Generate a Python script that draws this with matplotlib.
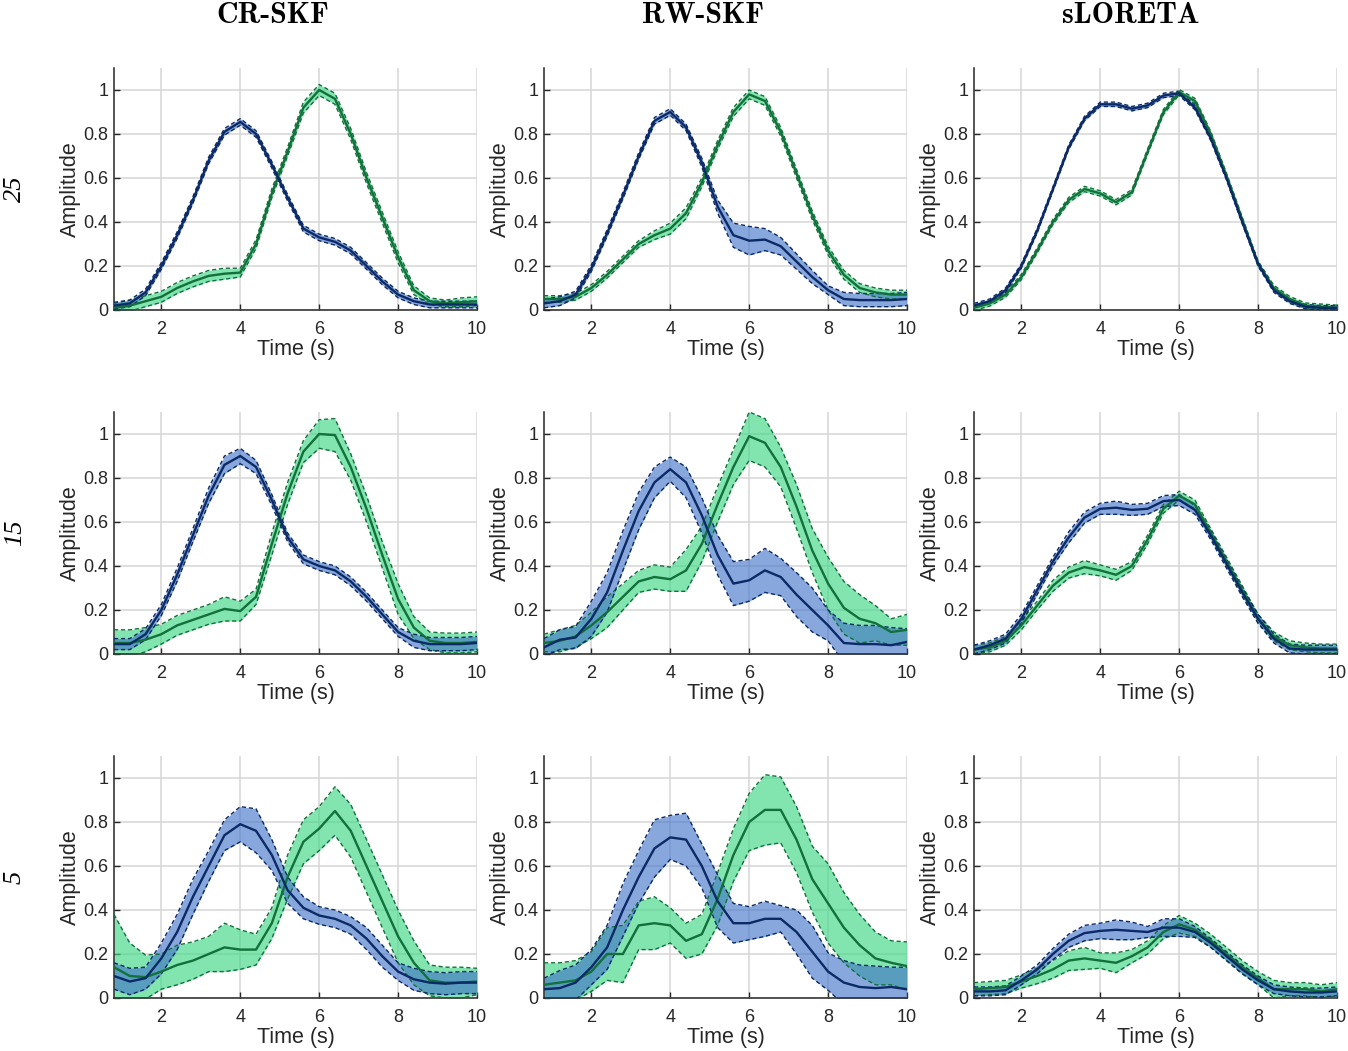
import numpy as np
import matplotlib
matplotlib.use("Agg")
import matplotlib.pyplot as plt

time_s = [0.8, 1.2, 1.6, 2.0, 2.4, 2.8, 3.2, 3.6, 4.0, 4.4, 4.8, 5.2,
          5.6, 6.0, 6.4, 6.8, 7.2, 7.6, 8.0, 8.4, 8.8, 9.2, 9.6, 10.0]

methods = ["CR-SKF", "RW-SKF", "sLORETA"]
snr_labels = ["25", "15", "5"]

# ---- SNR 25 ----
cr25_blue = [0.02, 0.03, 0.08, 0.20, 0.34, 0.50, 0.68, 0.81, 0.855, 0.80, 0.66, 0.51,
             0.37, 0.33, 0.31, 0.27, 0.20, 0.13, 0.07, 0.04, 0.025, 0.025, 0.025, 0.025]
cr25_blue_sd = [0.015] * 24
cr25_green = [0.01, 0.02, 0.04, 0.06, 0.10, 0.13, 0.155, 0.165, 0.17, 0.30, 0.53, 0.72,
              0.92, 1.00, 0.96, 0.80, 0.60, 0.42, 0.24, 0.09, 0.04, 0.03, 0.035, 0.04]
cr25_green_sd = [0.02, 0.025, 0.025, 0.025, 0.025, 0.025, 0.025, 0.025, 0.02, 0.02, 0.02, 0.02,
                 0.025, 0.025, 0.025, 0.025, 0.025, 0.025, 0.025, 0.02, 0.015, 0.015, 0.02, 0.02]

rw25_blue = [0.03, 0.04, 0.07, 0.19, 0.35, 0.52, 0.70, 0.86, 0.90, 0.83, 0.67, 0.47,
             0.34, 0.315, 0.32, 0.29, 0.22, 0.15, 0.09, 0.05, 0.045, 0.045, 0.045, 0.05]
rw25_blue_sd = [0.02, 0.02, 0.015, 0.015, 0.015, 0.015, 0.015, 0.015, 0.015, 0.015, 0.02, 0.03,
                0.055, 0.065, 0.05, 0.04, 0.035, 0.03, 0.02, 0.03, 0.03, 0.03, 0.03, 0.03]
rw25_green = [0.05, 0.05, 0.06, 0.10, 0.16, 0.23, 0.30, 0.34, 0.37, 0.44, 0.58, 0.75,
              0.90, 0.98, 0.95, 0.81, 0.62, 0.43, 0.27, 0.16, 0.10, 0.08, 0.07, 0.07]
rw25_green_sd = [0.015, 0.015, 0.015, 0.015, 0.015, 0.015, 0.015, 0.02, 0.025, 0.025, 0.02, 0.02,
                 0.02, 0.02, 0.02, 0.02, 0.02, 0.02, 0.02, 0.02, 0.02, 0.02, 0.02, 0.02]

sl25_blue = [0.02, 0.04, 0.09, 0.20, 0.36, 0.55, 0.74, 0.87, 0.935, 0.935, 0.915, 0.93,
             0.975, 0.985, 0.92, 0.78, 0.60, 0.40, 0.21, 0.09, 0.04, 0.015, 0.01, 0.01]
sl25_blue_sd = [0.01] * 24
sl25_green = [0.01, 0.03, 0.07, 0.15, 0.27, 0.40, 0.50, 0.55, 0.53, 0.49, 0.535, 0.72,
              0.90, 0.99, 0.95, 0.80, 0.61, 0.41, 0.21, 0.10, 0.05, 0.02, 0.015, 0.01]
sl25_green_sd = [0.012] * 24

# ---- SNR 15 ----
cr15_blue = [0.045, 0.045, 0.09, 0.20, 0.36, 0.54, 0.72, 0.86, 0.90, 0.85, 0.70, 0.53,
             0.43, 0.40, 0.38, 0.33, 0.26, 0.18, 0.10, 0.06, 0.045, 0.045, 0.045, 0.05]
cr15_blue_sd = [0.025, 0.025, 0.025, 0.025, 0.03, 0.03, 0.035, 0.04, 0.035, 0.03, 0.025, 0.02,
                0.02, 0.02, 0.02, 0.02, 0.02, 0.02, 0.02, 0.03, 0.03, 0.03, 0.03, 0.03]
cr15_green = [0.05, 0.05, 0.065, 0.09, 0.13, 0.155, 0.18, 0.205, 0.195, 0.26, 0.50, 0.73,
              0.92, 1.00, 0.995, 0.85, 0.66, 0.45, 0.25, 0.12, 0.06, 0.05, 0.05, 0.055]
cr15_green_sd = [0.06, 0.06, 0.055, 0.045, 0.045, 0.045, 0.045, 0.055, 0.045, 0.035, 0.05, 0.05,
                 0.05, 0.065, 0.075, 0.06, 0.06, 0.06, 0.07, 0.05, 0.04, 0.045, 0.045, 0.045]

rw15_blue = [0.03, 0.065, 0.075, 0.16, 0.28, 0.47, 0.65, 0.78, 0.84, 0.78, 0.63, 0.45,
             0.32, 0.335, 0.38, 0.35, 0.27, 0.20, 0.13, 0.05, 0.045, 0.045, 0.04, 0.055]
rw15_blue_sd = [0.04, 0.045, 0.05, 0.08, 0.09, 0.09, 0.085, 0.07, 0.055, 0.07, 0.08, 0.09,
                0.10, 0.095, 0.10, 0.085, 0.10, 0.10, 0.07, 0.09, 0.085, 0.085, 0.08, 0.06]
rw15_green = [0.05, 0.06, 0.08, 0.13, 0.19, 0.26, 0.33, 0.35, 0.34, 0.38, 0.50, 0.68,
              0.85, 0.99, 0.96, 0.85, 0.67, 0.47, 0.32, 0.21, 0.16, 0.14, 0.10, 0.11]
rw15_green_sd = [0.04, 0.05, 0.05, 0.06, 0.07, 0.06, 0.05, 0.055, 0.055, 0.095, 0.08, 0.08,
                 0.08, 0.11, 0.11, 0.09, 0.10, 0.10, 0.12, 0.12, 0.11, 0.08, 0.06, 0.07]

sl15_blue = [0.02, 0.04, 0.07, 0.16, 0.29, 0.42, 0.53, 0.62, 0.66, 0.665, 0.655, 0.66,
             0.695, 0.70, 0.655, 0.54, 0.41, 0.28, 0.16, 0.07, 0.025, 0.02, 0.02, 0.02]
sl15_blue_sd = [0.02, 0.02, 0.02, 0.02, 0.02, 0.02, 0.025, 0.025, 0.025, 0.03, 0.025, 0.025,
                0.025, 0.025, 0.02, 0.02, 0.02, 0.02, 0.02, 0.02, 0.02, 0.02, 0.02, 0.02]
sl15_green = [0.02, 0.03, 0.06, 0.13, 0.22, 0.31, 0.37, 0.395, 0.38, 0.36, 0.40, 0.52,
              0.66, 0.72, 0.68, 0.55, 0.42, 0.29, 0.16, 0.08, 0.04, 0.03, 0.025, 0.025]
sl15_green_sd = [0.02, 0.02, 0.02, 0.02, 0.02, 0.025, 0.025, 0.03, 0.025, 0.025, 0.02, 0.02,
                 0.02, 0.02, 0.02, 0.02, 0.02, 0.02, 0.02, 0.02, 0.02, 0.02, 0.02, 0.02]

# ---- SNR 5 ----
cr5_blue = [0.10, 0.075, 0.09, 0.18, 0.30, 0.46, 0.60, 0.74, 0.79, 0.76, 0.65, 0.49,
            0.41, 0.375, 0.36, 0.33, 0.27, 0.19, 0.12, 0.085, 0.07, 0.065, 0.07, 0.07]
cr5_blue_sd = [0.06, 0.06, 0.05, 0.07, 0.08, 0.08, 0.07, 0.07, 0.08, 0.10, 0.07, 0.06,
               0.05, 0.04, 0.04, 0.04, 0.05, 0.05, 0.04, 0.05, 0.05, 0.05, 0.05, 0.05]
cr5_green = [0.14, 0.10, 0.095, 0.12, 0.15, 0.17, 0.20, 0.23, 0.22, 0.22, 0.34, 0.55,
             0.71, 0.77, 0.85, 0.76, 0.60, 0.44, 0.28, 0.16, 0.08, 0.07, 0.07, 0.075]
cr5_green_sd = [0.24, 0.15, 0.10, 0.08, 0.09, 0.085, 0.08, 0.11, 0.09, 0.07, 0.07, 0.10,
                0.10, 0.10, 0.11, 0.12, 0.12, 0.12, 0.12, 0.10, 0.07, 0.07, 0.07, 0.06]

rw5_blue = [0.04, 0.045, 0.07, 0.14, 0.23, 0.40, 0.55, 0.68, 0.73, 0.72, 0.60, 0.44,
            0.34, 0.34, 0.36, 0.36, 0.30, 0.21, 0.12, 0.07, 0.05, 0.045, 0.05, 0.04]
rw5_blue_sd = [0.05, 0.08, 0.08, 0.08, 0.10, 0.12, 0.12, 0.13, 0.10, 0.12, 0.10, 0.12,
               0.09, 0.075, 0.08, 0.06, 0.10, 0.12, 0.085, 0.10, 0.10, 0.10, 0.09, 0.10]
rw5_green = [0.06, 0.07, 0.08, 0.12, 0.20, 0.20, 0.33, 0.34, 0.33, 0.26, 0.29, 0.45,
             0.65, 0.80, 0.855, 0.855, 0.72, 0.54, 0.43, 0.32, 0.24, 0.18, 0.16, 0.145]
rw5_green_sd = [0.10, 0.09, 0.09, 0.09, 0.12, 0.13, 0.11, 0.12, 0.08, 0.08, 0.09, 0.12,
                0.12, 0.13, 0.16, 0.15, 0.15, 0.15, 0.18, 0.16, 0.14, 0.12, 0.10, 0.11]

sl5_blue = [0.03, 0.03, 0.035, 0.08, 0.13, 0.20, 0.26, 0.295, 0.305, 0.31, 0.305, 0.30,
            0.32, 0.32, 0.30, 0.25, 0.19, 0.13, 0.08, 0.04, 0.03, 0.025, 0.025, 0.03]
sl5_blue_sd = [0.02, 0.02, 0.02, 0.02, 0.02, 0.025, 0.03, 0.035, 0.035, 0.045, 0.04, 0.025,
               0.04, 0.04, 0.025, 0.02, 0.02, 0.02, 0.02, 0.02, 0.02, 0.02, 0.02, 0.02]
sl5_green = [0.04, 0.045, 0.05, 0.075, 0.10, 0.13, 0.17, 0.18, 0.17, 0.16, 0.19, 0.23,
             0.30, 0.335, 0.31, 0.26, 0.20, 0.14, 0.09, 0.04, 0.04, 0.04, 0.03, 0.04]
sl5_green_sd = [0.03, 0.03, 0.03, 0.03, 0.035, 0.04, 0.045, 0.05, 0.035, 0.045, 0.03, 0.03,
                0.03, 0.04, 0.03, 0.03, 0.03, 0.03, 0.03, 0.04, 0.03, 0.03, 0.03, 0.03]

panels = [
    [(cr25_blue, cr25_blue_sd, cr25_green, cr25_green_sd),
     (rw25_blue, rw25_blue_sd, rw25_green, rw25_green_sd),
     (sl25_blue, sl25_blue_sd, sl25_green, sl25_green_sd)],
    [(cr15_blue, cr15_blue_sd, cr15_green, cr15_green_sd),
     (rw15_blue, rw15_blue_sd, rw15_green, rw15_green_sd),
     (sl15_blue, sl15_blue_sd, sl15_green, sl15_green_sd)],
    [(cr5_blue, cr5_blue_sd, cr5_green, cr5_green_sd),
     (rw5_blue, rw5_blue_sd, rw5_green, rw5_green_sd),
     (sl5_blue, sl5_blue_sd, sl5_green, sl5_green_sd)],
]

blue_line = "#0b2a66"
blue_fill = "#3f72c8"
green_line = "#12703a"
green_fill = "#3fd684"
axis_col = "#262626"

plt.rcParams["font.family"] = ["Liberation Sans", "DejaVu Sans"]

fig = plt.figure(figsize=(13.48, 10.51), dpi=100)

lefts = [114, 544, 974]
tops = [68, 412, 756]
W, H = 1348.0, 1051.0
aw, ah = 363, 242

t = np.array(time_s)


def draw_series(ax, mean, sd, line_c, fill_c, alpha):
    mean = np.array(mean)
    sd = np.array(sd)
    lo = mean - sd
    hi = mean + sd
    ax.fill_between(t, lo, hi, color=fill_c, alpha=alpha, linewidth=0, zorder=2)
    ax.plot(t, lo, "--", color=line_c, lw=1.0, dashes=(3, 2), zorder=3)
    ax.plot(t, hi, "--", color=line_c, lw=1.0, dashes=(3, 2), zorder=3)
    ax.plot(t, mean, "-", color=line_c, lw=1.7, zorder=4)


for r in range(3):
    for c in range(3):
        ax = fig.add_axes([lefts[c] / W, 1 - (tops[r] + ah) / H, aw / W, ah / H])
        blue, blue_sd, green, green_sd = panels[r][c]
        draw_series(ax, green, green_sd, green_line, green_fill, 0.65)
        draw_series(ax, blue, blue_sd, blue_line, blue_fill, 0.62)

        ax.set_xlim(0.8, 10)
        ax.set_ylim(0, 1.1)
        ax.set_xticks([2, 4, 6, 8, 10])
        ax.set_yticks([0, 0.2, 0.4, 0.6, 0.8, 1])
        ax.set_yticklabels(["0", "0.2", "0.4", "0.6", "0.8", "1"])
        ax.grid(True, color="#d6d6d6", lw=1.1)
        ax.set_axisbelow(True)
        for s in ["top", "right"]:
            ax.spines[s].set_visible(False)
        for s in ["left", "bottom"]:
            ax.spines[s].set_color(axis_col)
            ax.spines[s].set_linewidth(1.1)
        ax.tick_params(direction="in", length=4, width=1, colors=axis_col,
                       labelsize=13)
        ax.tick_params(axis="x", pad=8)
        ax.tick_params(axis="y", pad=4)
        ax.set_xlabel("Time (s)", fontsize=15.5, color=axis_col)
        ax.set_ylabel("Amplitude", fontsize=15.5, color=axis_col)
        ax.xaxis.set_label_coords(0.5, -0.12)
        ax.yaxis.set_label_coords(-0.092, 0.5)

# column titles
title_x = [273, 703, 1131]
for c in range(3):
    fig.text(title_x[c] / W, 1 - 23 / H, methods[c], ha="center", va="baseline",
             fontsize=21.5, fontfamily="cmb10")

# row labels (SNR)
for r in range(3):
    fig.text(15 / W, 1 - (tops[r] + ah / 2) / H, snr_labels[r], ha="center",
             va="center", rotation=90, fontsize=19, fontstyle="italic",
             fontfamily="Liberation Serif")

fig.savefig("out.png", dpi=100)
